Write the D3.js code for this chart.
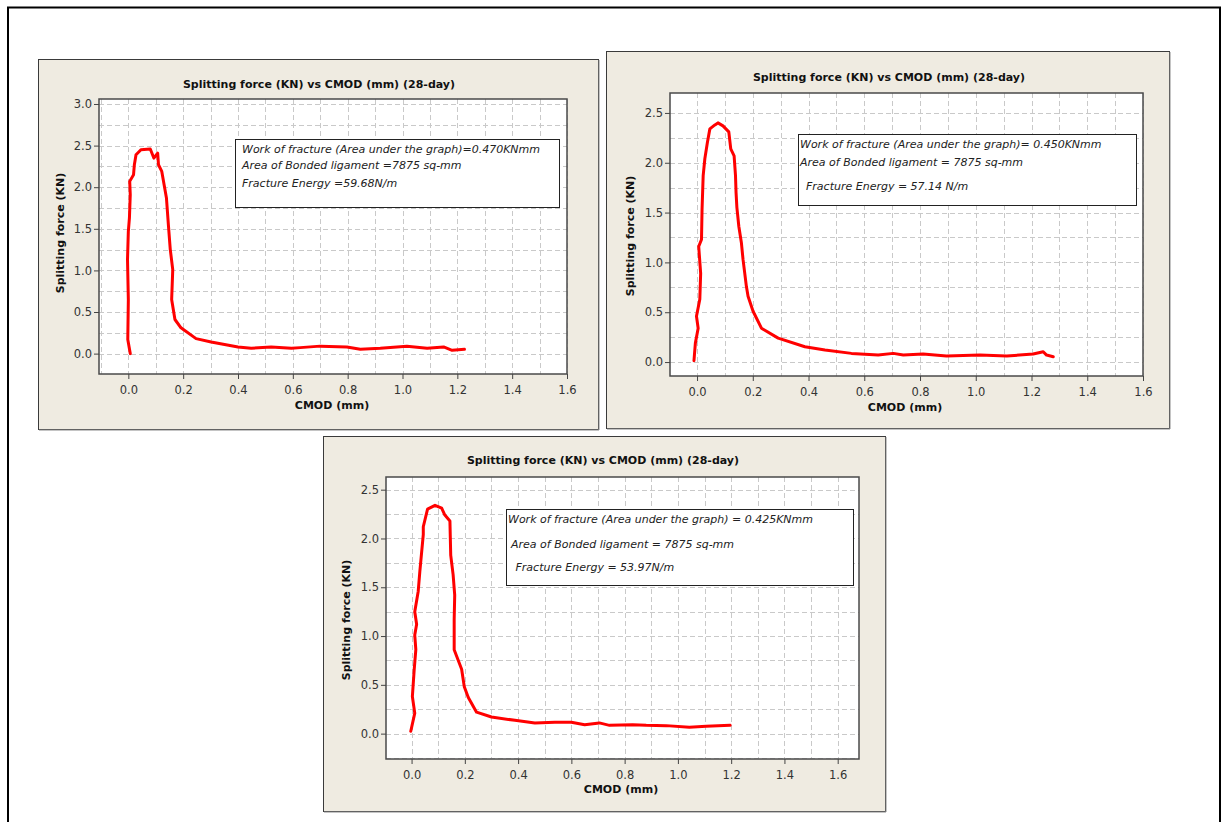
<!DOCTYPE html>
<html>
<head>
<meta charset="utf-8">
<script src="https://cdn.jsdelivr.net/npm/d3@7"></script>
<style>
  html, body { margin: 0; padding: 0; background: #ffffff; }
  svg { display: block; }
  .tick text { font-family: "DejaVu Sans", sans-serif; font-size: 11.5px; fill: #333; }
</style>
</head>
<body>
<svg id="chart" width="1222" height="822"></svg>
<script>
// ---- Specimen 1 (28-day) ----
const cmod1 = [0.007, -0.002, 0.000, -0.003, 0.000, 0.004, 0.007, 0.005, 0.019, 0.022, 0.028, 0.046, 0.080, 0.093, 0.107, 0.110, 0.122, 0.139, 0.146, 0.153, 0.162, 0.158, 0.170, 0.192, 0.247, 0.302, 0.400, 0.448, 0.521, 0.595, 0.627, 0.700, 0.797, 0.846, 0.919, 1.016, 1.090, 1.150, 1.181, 1.226];
const force1 = [0.00, 0.17, 0.65, 1.13, 1.47, 1.63, 1.91, 2.07, 2.15, 2.27, 2.39, 2.45, 2.46, 2.35, 2.41, 2.27, 2.19, 1.87, 1.55, 1.25, 1.01, 0.65, 0.41, 0.31, 0.18, 0.14, 0.08, 0.064, 0.08, 0.064, 0.072, 0.09, 0.08, 0.052, 0.064, 0.088, 0.064, 0.08, 0.04, 0.052];
const notes1 = ["Work of fracture (Area under the graph)=0.470KNmm", "Area of Bonded ligament =7875 sq-mm", "Fracture Energy =59.68N/m"];

// ---- Specimen 2 (28-day) ----
const cmod2 = [-0.011, -0.006, 0.004, -0.002, 0.010, 0.013, 0.006, 0.016, 0.018, 0.022, 0.028, 0.037, 0.046, 0.064, 0.075, 0.093, 0.114, 0.121, 0.133, 0.138, 0.140, 0.143, 0.150, 0.159, 0.165, 0.177, 0.183, 0.201, 0.231, 0.291, 0.387, 0.459, 0.554, 0.650, 0.704, 0.740, 0.811, 0.895, 1.015, 1.111, 1.206, 1.242, 1.254, 1.278];
const force2 = [0.013, 0.19, 0.34, 0.46, 0.63, 0.89, 1.16, 1.23, 1.53, 1.87, 2.04, 2.20, 2.34, 2.38, 2.40, 2.37, 2.31, 2.14, 2.07, 1.87, 1.70, 1.55, 1.36, 1.20, 1.03, 0.76, 0.66, 0.51, 0.34, 0.24, 0.154, 0.121, 0.087, 0.07, 0.087, 0.07, 0.08, 0.06, 0.07, 0.06, 0.08, 0.104, 0.07, 0.053];
const notes2 = ["Work of fracture (Area under the graph)= 0.450KNmm", "Area of Bonded ligament = 7875 sq-mm", "Fracture Energy = 57.14 N/m"];

// ---- Specimen 3 (28-day) ----
const cmod3 = [-0.003, 0.012, 0.003, 0.010, 0.016, 0.012, 0.019, 0.012, 0.025, 0.031, 0.044, 0.044, 0.060, 0.088, 0.113, 0.125, 0.144, 0.147, 0.156, 0.162, 0.160, 0.160, 0.188, 0.198, 0.213, 0.244, 0.300, 0.388, 0.463, 0.538, 0.600, 0.650, 0.705, 0.743, 0.830, 0.881, 0.956, 1.043, 1.106, 1.196];
const force3 = [0.024, 0.21, 0.38, 0.66, 0.86, 1.01, 1.12, 1.25, 1.46, 1.66, 2.04, 2.12, 2.30, 2.34, 2.31, 2.24, 2.18, 1.83, 1.63, 1.42, 1.17, 0.86, 0.66, 0.48, 0.37, 0.22, 0.17, 0.136, 0.11, 0.116, 0.116, 0.092, 0.11, 0.085, 0.092, 0.085, 0.082, 0.065, 0.075, 0.085];
const notes3 = ["Work of fracture (Area under the graph) = 0.425KNmm", "Area of Bonded ligament = 7875 sq-mm", " Fracture Energy = 53.97N/m"];

// ---- Shared axis text ----
const chartTitle = "Splitting force (KN) vs CMOD (mm) (28-day)";
const xLabel = "CMOD (mm)";
const yLabel = "Splitting force (KN)";
const xTickValues = [0.0, 0.2, 0.4, 0.6, 0.8, 1.0, 1.2, 1.4, 1.6];
const yTickValues1 = [0.0, 0.5, 1.0, 1.5, 2.0, 2.5, 3.0];
const yTickValues2 = [0.0, 0.5, 1.0, 1.5, 2.0, 2.5];
const yTickValues3 = [0.0, 0.5, 1.0, 1.5, 2.0, 2.5];

const svg = d3.select("#chart");
const FONT = "'DejaVu Sans', sans-serif";

// page frame
svg.append("path")
  .attr("d", "M8,822 L8,7.5 L1220,7.5 L1220,822")
  .attr("fill", "none").attr("stroke", "#000").attr("stroke-width", 2);

function drawPanel(cfg) {
  const g = svg.append("g");
  const [bx0, by0, bx1, by1] = cfg.box;
  // panel background
  g.append("rect").attr("x", bx0 + 0.5).attr("y", by0 + 0.5)
    .attr("width", bx1 - bx0).attr("height", by1 - by0)
    .attr("fill", "#efebe1").attr("stroke", "#3a3a3a").attr("stroke-width", 1);
  g.append("path")
    .attr("d", `M${bx0 + 1},${by1 + 1} L${bx1 + 1},${by1 + 1} L${bx1 + 1},${by0 + 1}`)
    .attr("fill", "none").attr("stroke", "#8a8a8a").attr("stroke-width", 1);

  const [px0, py0, px1, py1] = cfg.plot;
  const x = d3.scaleLinear().domain(cfg.xDomain).range([px0, px1]);
  const y = d3.scaleLinear().domain(cfg.yDomain).range([py1, py0]);

  g.append("rect").attr("x", px0).attr("y", py0)
    .attr("width", px1 - px0).attr("height", py1 - py0).attr("fill", "#fff");

  // dashed grid
  const xGrid = d3.range(-0.1, cfg.xDomain[1] + 1e-9, 0.1).filter(v => v > cfg.xDomain[0] + 0.002 && v < cfg.xDomain[1] - 0.002 || Math.abs(v - cfg.xDomain[1]) < 0.002);
  const yGrid = d3.range(-0.25, cfg.yDomain[1] + 1e-9, 0.25).filter(v => v >= cfg.yDomain[0] && v <= cfg.yDomain[1]);
  const grid = g.append("g").attr("stroke", "#c9c9c9").attr("stroke-width", 1).attr("stroke-dasharray", "5,3");
  grid.selectAll("line.gx").data(xGrid).join("line").attr("class", "gx")
    .attr("x1", d => Math.round(x(d)) + 0.5).attr("x2", d => Math.round(x(d)) + 0.5)
    .attr("y1", py0).attr("y2", py1);
  grid.selectAll("line.gy").data(yGrid).join("line").attr("class", "gy")
    .attr("y1", d => Math.round(y(d)) + 0.5).attr("y2", d => Math.round(y(d)) + 0.5)
    .attr("x1", px0).attr("x2", px1);

  // annotation box
  const [ax0, ay0, ax1, ay1] = cfg.noteBox;
  g.append("rect").attr("x", ax0 + 0.5).attr("y", ay0 + 0.5)
    .attr("width", ax1 - ax0).attr("height", ay1 - ay0)
    .attr("fill", "#fff").attr("stroke", "#222").attr("stroke-width", 1);
  g.selectAll("text.note").data(cfg.notes).join("text").attr("class", "note")
    .attr("x", (d, i) => cfg.notePos[i][0]).attr("y", (d, i) => cfg.notePos[i][1])
    .attr("font-family", FONT).attr("font-size", 11).attr("font-style", "italic")
    .attr("fill", "#222").style("white-space", "pre").text(d => d);

  // curve
  const pts = cfg.cmod.map((c, i) => [c, cfg.force[i]]);
  g.append("path").datum(pts)
    .attr("d", d3.line().x(d => x(d[0])).y(d => y(d[1])))
    .attr("fill", "none").attr("stroke", "#ff0000").attr("stroke-width", 3)
    .attr("stroke-linejoin", "round").attr("stroke-linecap", "round");

  // frame
  g.append("rect").attr("x", px0).attr("y", py0)
    .attr("width", px1 - px0).attr("height", py1 - py0)
    .attr("fill", "none").attr("stroke", "#4a4a4a").attr("stroke-width", 1.5);

  // axes
  const xa = g.append("g").attr("transform", `translate(0,${py1})`)
    .call(d3.axisBottom(x).tickValues(cfg.xTicks).tickFormat(d3.format(".1f")).tickSize(5).tickSizeOuter(0));
  xa.select(".domain").remove();
  xa.selectAll(".tick line").attr("stroke", "#444");
  xa.selectAll(".tick text").attr("dy", "1.0em");

  const ya = g.append("g").attr("transform", `translate(${px0},0)`)
    .call(d3.axisLeft(y).tickValues(cfg.yTicks).tickFormat(d3.format(".1f")).tickSize(5).tickSizeOuter(0));
  ya.select(".domain").remove();
  ya.selectAll(".tick line").attr("stroke", "#444");
  ya.selectAll(".tick text").attr("x", -7);

  // titles
  g.append("text").attr("x", cfg.titlePos[0]).attr("y", cfg.titlePos[1])
    .attr("text-anchor", "middle").attr("font-family", FONT).attr("font-weight", "bold")
    .attr("font-size", 11).attr("fill", "#111").text(chartTitle);
  g.append("text").attr("x", cfg.xLabelPos[0]).attr("y", cfg.xLabelPos[1])
    .attr("text-anchor", "middle").attr("font-family", FONT).attr("font-weight", "bold")
    .attr("font-size", 11).attr("fill", "#111").text(xLabel);
  g.append("text")
    .attr("transform", `translate(${cfg.yLabelPos[0]},${cfg.yLabelPos[1]}) rotate(-90)`)
    .attr("text-anchor", "middle").attr("font-family", FONT).attr("font-weight", "bold")
    .attr("font-size", 11).attr("fill", "#111").text(yLabel);
}

drawPanel({
  box: [38, 59, 598, 429], plot: [99, 99, 567, 374],
  xDomain: [-0.107, 1.6], yDomain: [-0.245, 3.06],
  xTicks: xTickValues, yTicks: yTickValues1,
  cmod: cmod1, force: force1,
  noteBox: [235, 139, 559, 207], notes: notes1,
  notePos: [[242, 152.5], [242, 169], [242, 187]],
  titlePos: [319, 88], xLabelPos: [332, 409], yLabelPos: [64, 233]
});

drawPanel({
  box: [606, 51, 1169, 428], plot: [670, 93, 1143, 376],
  xDomain: [-0.097, 1.6], yDomain: [-0.14, 2.70],
  xTicks: xTickValues, yTicks: yTickValues2,
  cmod: cmod2, force: force2,
  noteBox: [798, 134, 1136, 205], notes: notes2,
  notePos: [[800, 148], [800, 165.5], [806, 190]],
  titlePos: [889, 81], xLabelPos: [905, 411], yLabelPos: [634, 236]
});

drawPanel({
  box: [323, 436, 885, 811], plot: [386, 477, 859, 759],
  xDomain: [-0.096, 1.68], yDomain: [-0.26, 2.63],
  xTicks: xTickValues, yTicks: yTickValues3,
  cmod: cmod3, force: force3,
  noteBox: [506, 509, 853, 585], notes: notes3,
  notePos: [[508, 523], [511, 548], [512, 570.5]],
  titlePos: [603, 464], xLabelPos: [621, 793], yLabelPos: [350, 620]
});
</script>
</body>
</html>
